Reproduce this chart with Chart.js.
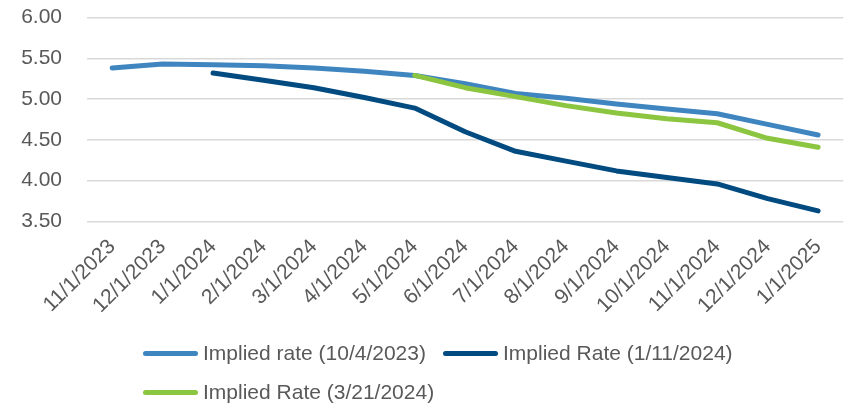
<!DOCTYPE html>
<html>
<head>
<meta charset="utf-8">
<title>Implied policy rate paths</title>
<script src="https://cdn.jsdelivr.net/npm/chart.js@4/dist/chart.umd.min.js"></script>
<style>
  html, body { margin: 0; padding: 0; background: #ffffff; overflow: hidden; }
  #wrap { position: relative; width: 849px; height: 404px; }
  #chart { position: absolute; left: 0; top: 0; }
  .legend-item { position: absolute; display: flex; align-items: center; height: 30px;
    font-family: "Liberation Sans", Arial, sans-serif; font-size: 21px; color: #595959; white-space: nowrap; }
  .legend-swatch { width: 55px; height: 5px; border-radius: 3px; margin-right: 5px; }
</style>
</head>
<body>
<div id="wrap">
  <canvas id="chart" width="849" height="404"></canvas>
</div>
<script>
const categories = ['11/1/2023', '12/1/2023', '1/1/2024', '2/1/2024', '3/1/2024', '4/1/2024', '5/1/2024',
  '6/1/2024', '7/1/2024', '8/1/2024', '9/1/2024', '10/1/2024', '11/1/2024', '12/1/2024', '1/1/2025'];

const rateOct2023 = [5.38, 5.43, 5.42, 5.41, 5.38, 5.34, 5.29, 5.19, 5.07, 5.01, 4.94, 4.88, 4.82, 4.69, 4.56];
const rateJan2024 = [null, null, 5.32, 5.23, 5.14, 5.02, 4.89, 4.60, 4.36, 4.24, 4.12, 4.04, 3.96, 3.78, 3.63];
const rateMar2024 = [null, null, null, null, null, null, 5.29, 5.14, 5.03, 4.92, 4.83, 4.76, 4.71, 4.52, 4.41];

const yTicks = [3.5, 4.0, 4.5, 5.0, 5.5, 6.0];

const seriesNames = ['Implied rate (10/4/2023)', 'Implied Rate (1/11/2024)', 'Implied Rate (3/21/2024)'];
const seriesColors = ['#3F86C0', '#024B80', '#8CC540'];
const seriesData = [rateOct2023, rateJan2024, rateMar2024];

const FONT = '"Liberation Sans", Arial, sans-serif';
const TEXT = '#595959';

const datasets = seriesNames.map((name, i) => ({
  label: name,
  data: seriesData[i],
  borderColor: seriesColors[i],
  backgroundColor: seriesColors[i],
  borderWidth: 5,
  borderCapStyle: 'round',
  borderJoinStyle: 'round',
  pointRadius: 0,
  pointHoverRadius: 0,
  tension: 0,
  spanGaps: false,
  fill: false,
  order: seriesNames.length - i
}));

const chart = new Chart(document.getElementById('chart'), {
  type: 'line',
  data: { labels: categories, datasets },
  options: {
    responsive: false,
    animation: false,
    devicePixelRatio: 1,
    layout: { padding: { left: 0, right: 3, top: 17.5, bottom: 0 } },
    plugins: { legend: { display: false }, tooltip: { enabled: false } },
    scales: {
      x: {
        type: 'category',
        offset: true,
        grid: { display: false, drawTicks: false },
        border: { display: false },
        ticks: {
          autoSkip: false,
          minRotation: 45,
          maxRotation: 45,
          padding: 13,
          color: TEXT,
          font: { family: FONT, size: 21 }
        },
        afterFit: (scale) => { scale.height = 404 - 221.5; }
      },
      y: {
        min: 3.5,
        max: 6.0,
        afterBuildTicks: (scale) => { scale.ticks = yTicks.map(v => ({ value: v })); },
        grid: { color: '#D9D9D9', lineWidth: 1.5, drawTicks: false },
        border: { display: false },
        ticks: {
          padding: 25,
          color: TEXT,
          font: { family: FONT, size: 21 },
          callback: (v) => Number(v).toFixed(2)
        },
        afterFit: (scale) => {
          scale.width = 87;
          scale.paddingTop = 0;
          scale.paddingBottom = 0;
        }
      }
    }
  }
});

// Legend built from the chart's datasets, laid out in two rows below the axis labels
const legendSpots = [
  { left: 143, top: 338 },
  { left: 443, top: 338 },
  { left: 143, top: 377 }
];
const wrap = document.getElementById('wrap');
chart.data.datasets.forEach((ds, i) => {
  const item = document.createElement('div');
  item.className = 'legend-item';
  item.style.left = legendSpots[i].left + 'px';
  item.style.top = legendSpots[i].top + 'px';
  const sw = document.createElement('span');
  sw.className = 'legend-swatch';
  sw.style.background = ds.borderColor;
  const label = document.createElement('span');
  label.textContent = ds.label;
  item.appendChild(sw);
  item.appendChild(label);
  wrap.appendChild(item);
});
</script>
</body>
</html>
